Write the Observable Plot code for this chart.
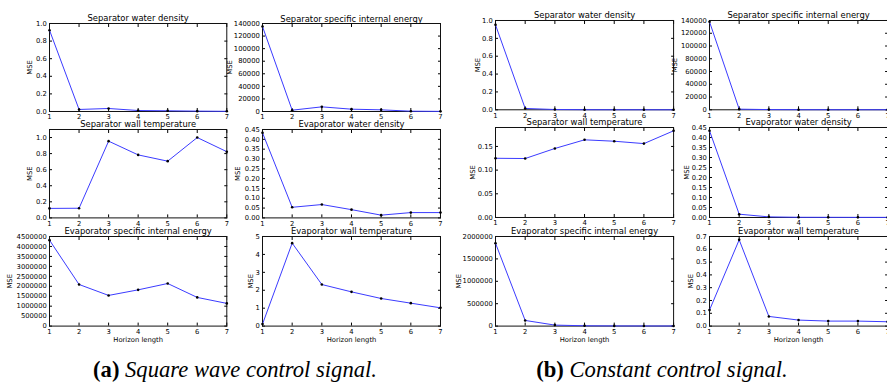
<!DOCTYPE html>
<html><head><meta charset="utf-8">
<script src="https://cdn.jsdelivr.net/npm/d3@7"></script>
<script src="https://cdn.jsdelivr.net/npm/@observablehq/plot@0.6"></script>
<style>
body{margin:0;background:#fff;}
#wrap{position:relative;width:887px;height:385px;overflow:hidden;background:#fff;}
#wrap svg{position:absolute;}
.cap{position:absolute;font-family:"Liberation Serif","Times New Roman",serif;font-size:22.6px;line-height:22.6px;white-space:nowrap;text-align:center;color:#000;}
</style></head><body>
<div id="wrap"></div>
<script>
// ---- data ----
const horizon = [1, 2, 3, 4, 5, 6, 7];
const titles = ["Separator water density", "Separator specific internal energy",
  "Separator wall temperature", "Evaporator water density",
  "Evaporator specific internal energy", "Evaporator wall temperature"];
const yLabel = "MSE";
const xLabel = "Horizon length";
const captions = [["(a)", "Square wave control signal."], ["(b)", "Constant control signal."]];

// (a) square wave control signal
const sqSepWaterDensity = [0.924, 0.023, 0.034, 0.011, 0.008, 0.004, 0.002];
const sqSepEnergy = [135200, 2100, 7400, 3700, 2650, 500, 200];
const sqSepWallTemp = [0.118, 0.12, 0.955, 0.784, 0.706, 1.0, 0.824];
const sqEvapWaterDensity = [0.433, 0.054, 0.068, 0.042, 0.014, 0.027, 0.027];
const sqEvapEnergy = [4316000, 2090000, 1540000, 1820000, 2140000, 1440000, 1140000];
const sqEvapWallTemp = [0.11, 4.63, 2.32, 1.91, 1.54, 1.28, 1.02];

// (b) constant control signal
const cSepWaterDensity = [0.951, 0.015, 0.003, 0.001, 0.0005, 0.0003, 0.0002];
const cSepEnergy = [138000, 1000, 300, 150, 100, 80, 60];
const cSepWallTemp = [0.125, 0.1245, 0.1457, 0.164, 0.161, 0.156, 0.183];
const cEvapWaterDensity = [0.434, 0.0165, 0.003, 0.001, 0.0008, 0.0006, 0.0005];
const cEvapEnergy = [1850000, 126000, 22000, 7000, 4000, 3000, 2500];
const cEvapWallTemp = [0.125, 0.674, 0.0755, 0.047, 0.039, 0.039, 0.034];

// y tick values
const ticksUnit = [0, 0.2, 0.4, 0.6, 0.8, 1.0];
const ticksSepEnergy = [0, 20000, 40000, 60000, 80000, 100000, 120000, 140000];
const ticksDensity = [0, 0.05, 0.1, 0.15, 0.2, 0.25, 0.3, 0.35, 0.4, 0.45];
const ticksSqEvapEnergy = [0, 500000, 1000000, 1500000, 2000000, 2500000, 3000000, 3500000, 4000000, 4500000];
const ticksSqEvapWall = [0, 1, 2, 3, 4, 5];
const ticksCSepWall = [0, 0.05, 0.1, 0.15];
const ticksCEvapEnergy = [0, 500000, 1000000, 1500000, 2000000];
const ticksCEvapWall = [0, 0.1, 0.2, 0.3, 0.4, 0.5, 0.6, 0.7];

// ---- layout ----
const colsA = [[48.7, 226], [262, 440]];
const colsB = [[495.3, 673.4], [709.3, 887.4]];
const rowsA = [[22.7, 110.7], [129.3, 217.7], [235.7, 325.3]];
const rowsB = [[20, 109.3], [127.3, 217.3], [235.7, 325.3]];

const panels = [
  {t: 0, v: sqSepWaterDensity, max: 1, ticks: ticksUnit, fmt: ".1f", col: colsA[0], row: rowsA[0], lx: 29},
  {t: 1, v: sqSepEnergy, max: 140000, ticks: ticksSepEnergy, fmt: "d", col: colsA[1], row: rowsA[0], lx: 229.7},
  {t: 2, v: sqSepWallTemp, max: 1.1, ticks: ticksUnit, fmt: ".1f", col: colsA[0], row: rowsA[1], lx: 29},
  {t: 3, v: sqEvapWaterDensity, max: 0.45, ticks: ticksDensity, fmt: ".2f", col: colsA[1], row: rowsA[1], lx: 237.7},
  {t: 4, v: sqEvapEnergy, max: 4500000, ticks: ticksSqEvapEnergy, fmt: "d", col: colsA[0], row: rowsA[2], lx: 9.3, xl: true},
  {t: 5, v: sqEvapWallTemp, max: 5, ticks: ticksSqEvapWall, fmt: "d", col: colsA[1], row: rowsA[2], lx: 250, xl: true},
  {t: 0, v: cSepWaterDensity, max: 1, ticks: ticksUnit, fmt: ".1f", col: colsB[0], row: rowsB[0], lx: 477.7},
  {t: 1, v: cSepEnergy, max: 140000, ticks: ticksSepEnergy, fmt: "d", col: colsB[1], row: rowsB[0], lx: 675},
  {t: 2, v: cSepWallTemp, max: 0.19, ticks: ticksCSepWall, fmt: ".2f", col: colsB[0], row: rowsB[1], lx: 472.7},
  {t: 3, v: cEvapWaterDensity, max: 0.45, ticks: ticksDensity, fmt: ".2f", col: colsB[1], row: rowsB[1], lx: 686.7},
  {t: 4, v: cEvapEnergy, max: 2000000, ticks: ticksCEvapEnergy, fmt: "d", col: colsB[0], row: rowsB[2], lx: 458.3, xl: true},
  {t: 5, v: cEvapWallTemp, max: 0.7, ticks: ticksCEvapWall, fmt: ".1f", col: colsB[1], row: rowsB[2], lx: 691, xl: true}
];

const wrap = document.getElementById("wrap");
const mL = 52, mR = 14, mT = 14, mB = 22;
const blank = () => "";

for (const p of panels) {
  const [L, R] = p.col, [T, B] = p.row;
  const data = horizon.map((h, i) => ({h, v: p.v[i]}));
  const marks = [
    Plot.axisX({ticks: horizon, anchor: "bottom", tickSize: -3, tickFormat: blank, label: null}),
    Plot.axisX({ticks: horizon, anchor: "top", tickSize: -3, tickFormat: blank, label: null}),
    Plot.axisX({ticks: horizon, anchor: "bottom", tickSize: 0, tickPadding: 3, tickFormat: d3.format("d"), label: null}),
    Plot.axisY({ticks: p.ticks, anchor: "left", tickSize: -3, tickFormat: blank, label: null}),
    Plot.axisY({ticks: p.ticks, anchor: "right", tickSize: -3, tickFormat: blank, label: null}),
    Plot.axisY({ticks: p.ticks, anchor: "left", tickSize: 0, tickPadding: 2.7, tickFormat: d3.format(p.fmt), label: null}),
    Plot.frame({stroke: "#111", strokeWidth: 1}),
    Plot.line(data, {x: "h", y: "v", stroke: "#3a3aff", strokeWidth: 1}),
    Plot.dot(data, {x: "h", y: "v", r: 1.3, fill: "#000", stroke: null}),
    Plot.text([titles[p.t]], {frameAnchor: "top", dy: -2, lineAnchor: "bottom", fontSize: 8.4}),
    Plot.text([yLabel], {frameAnchor: "left", rotate: -90, dx: p.lx - L, textAnchor: "middle", lineAnchor: "middle"})
  ];
  if (p.xl) marks.push(Plot.text([xLabel], {frameAnchor: "bottom", dy: 13.7, lineAnchor: "middle"}));
  const chart = Plot.plot({
    width: R - L + mL + mR,
    height: B - T + mT + mB,
    marginLeft: mL, marginRight: mR, marginTop: mT, marginBottom: mB,
    x: {domain: [1, 7]},
    y: {domain: [0, p.max]},
    style: {background: "transparent", overflow: "visible", maxWidth: "none", fontFamily: "DejaVu Sans", fontSize: "6.8px", color: "#000"},
    marks
  });
  chart.style.left = (L - mL) + "px";
  chart.style.top = (T - mT) + "px";
  wrap.appendChild(chart);
}

const capCenters = [235, 662];
captions.forEach(([lab, txt], i) => {
  const d = document.createElement("div");
  d.className = "cap";
  d.style.left = (capCenters[i] - 220) + "px";
  d.style.width = "440px";
  d.style.top = "359px";
  const b = document.createElement("b"); b.textContent = lab;
  const it = document.createElement("i"); it.textContent = " " + txt;
  d.appendChild(b); d.appendChild(it);
  wrap.appendChild(d);
});
</script>
</body></html>
